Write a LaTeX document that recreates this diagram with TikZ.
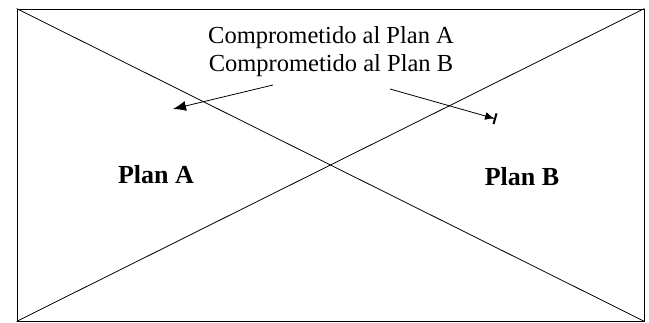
\documentclass[tikz,border=0pt]{standalone}
\usepackage{fontspec}
\setmainfont{Liberation Serif}
\usetikzlibrary{arrows.meta}

\begin{document}
\begin{tikzpicture}[x=1pt,y=-1pt,line width=0.8pt]
\useasboundingbox (0,0) rectangle (649,323);
\node [draw,inner sep=0pt,minimum width=627pt,minimum height=312pt] (marco) at (330.5,165) {};
\draw (marco.north west) -- (marco.south east);
\draw (marco.south west) -- (marco.north east);

\node [align=center,font=\fontsize{24.5}{28.5}\selectfont,anchor=base] (compromiso) at (331,72)
{Comprometido al Plan A\\ Comprometido al Plan B};

\node [font=\fontsize{26}{30}\bfseries\selectfont,anchor=base] (planA) at (156,184) {Plan A};
\node [font=\fontsize{26}{30}\bfseries\selectfont,anchor=base] (planB) at (522,186) {Plan B};

\coordinate (desdeA) at (273,85);
\coordinate (haciaA) at (173,109);
\coordinate (desdeB) at (390,89);
\coordinate (haciaB) at (496,119);
\draw [-{Latex[length=13pt,width=10pt]}] (desdeA) -- (haciaA);
\draw [-{Latex[length=9pt,width=8pt]Bar[width=11pt,line width=2pt]}] (desdeB) -- (haciaB);
\end{tikzpicture}
\end{document}
